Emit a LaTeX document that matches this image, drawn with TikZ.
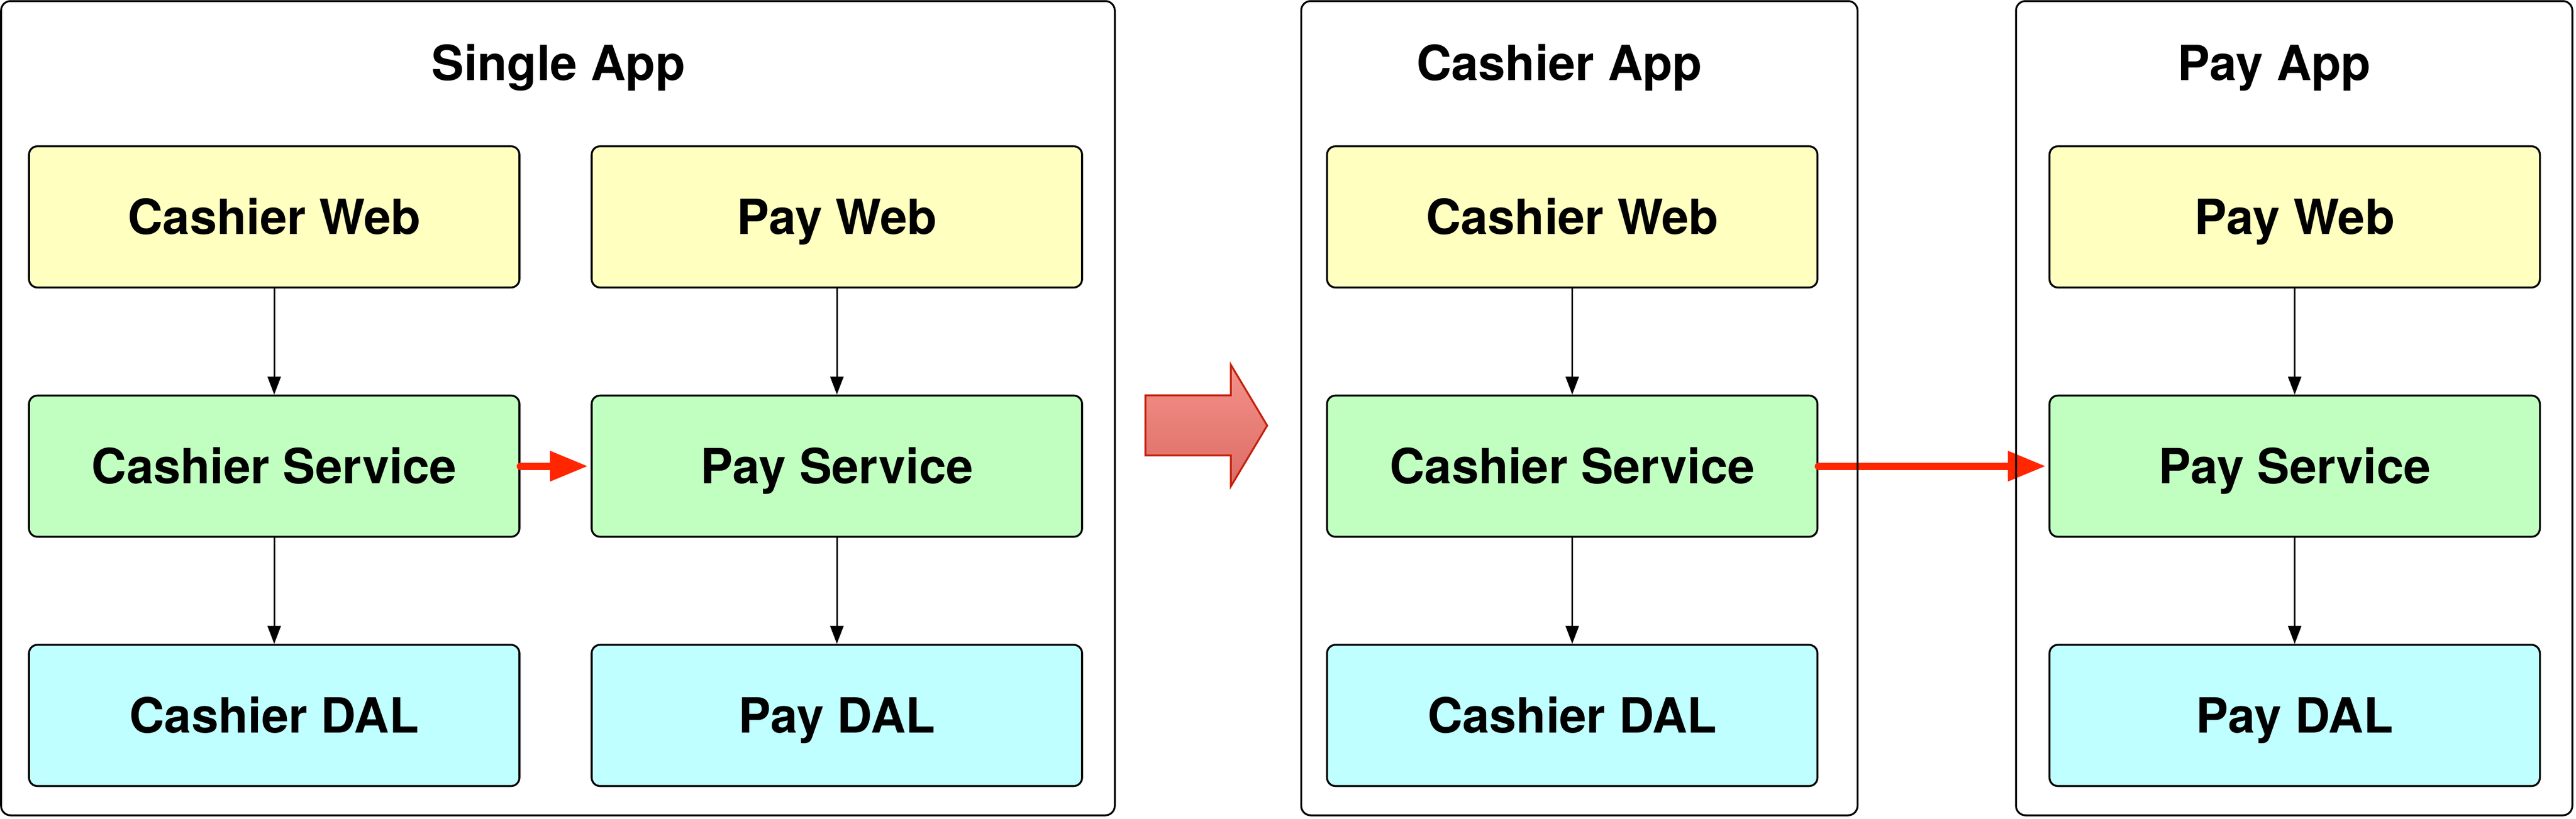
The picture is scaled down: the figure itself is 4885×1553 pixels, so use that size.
\documentclass[tikz,border=0pt]{standalone}
\usepackage{fontspec}
\setmainfont{TeX Gyre Heros}
\usetikzlibrary{arrows.meta}
\definecolor{webfill}{HTML}{FFFFC0}
\definecolor{svcfill}{HTML}{C0FFC0}
\definecolor{dalfill}{HTML}{C0FFFF}
\definecolor{callred}{HTML}{FF2600}
\definecolor{bigtop}{RGB}{244,146,138}
\definecolor{bigbot}{RGB}{220,108,100}
\definecolor{bigedge}{RGB}{196,32,12}
\begin{document}
\begin{tikzpicture}[x=1pt,y=-1pt,
  comp/.style={draw=black, line width=3.6pt, rounded corners=16pt,
    minimum width=930pt, minimum height=268pt, inner sep=0pt,
    text height=66pt, text depth=0pt,
    font=\fontsize{92}{110}\selectfont\bfseries},
  web/.style={comp, fill=webfill},
  svc/.style={comp, fill=svcfill},
  dal/.style={comp, fill=dalfill},
  apptitle/.style={inner sep=0pt, text height=66pt, text depth=0pt,
    font=\fontsize{92}{110}\selectfont\bfseries},
  appbox/.style={draw=black, line width=3.5pt, rounded corners=18pt,
    inner sep=0pt, minimum height=1545pt},
  flow/.style={draw=black, line width=3pt, -{Triangle[length=34pt,width=25pt]}},
  redcall/.style={draw=callred, line width=14pt, line cap=round,
    -{Triangle[length=72pt,width=54pt]}, shorten >=5pt},
  bigarrow/.style={draw=bigedge, line width=3.5pt, line join=miter,
    top color=bigtop, bottom color=bigbot}
]
\useasboundingbox (0,0) rectangle (4885,1553);

% Single App components
\node[web] (w1) at (520,411.5) {Cashier Web};
\node[web] (w2) at (1587,411.5) {Pay Web};
\node[svc] (s1) at (520,884.5) {Cashier Service};
\node[svc] (s2) at (1587,884.5) {Pay Service};
\node[dal] (d1) at (520,1357.5) {Cashier DAL};
\node[dal] (d2) at (1587,1357.5) {Pay DAL};

% Cashier App components
\node[web] (w3) at (2981.5,411.5) {Cashier Web};
\node[svc] (s3) at (2981.5,884.5) {Cashier Service};
\node[dal] (d3) at (2981.5,1357.5) {Cashier DAL};

% Pay App components
\node[web] (w4) at (4351.5,411.5) {Pay Web};
\node[svc] (s4) at (4351.5,884.5) {Pay Service};
\node[dal] (d4) at (4351.5,1357.5) {Pay DAL};

% vertical flows
\draw[flow] (w1) -- (s1);
\draw[flow] (s1) -- (d1);
\draw[flow] (w2) -- (s2);
\draw[flow] (s2) -- (d2);
\draw[flow] (w3) -- (s3);
\draw[flow] (s3) -- (d3);
\draw[flow] (w4) -- (s4);
\draw[flow] (s4) -- (d4);

% red calls
\draw[redcall] (s1.east) -- (s2.west);
\draw[redcall] (s3.east) -- (s4.west);

% big transformation arrow
\draw[bigarrow] (2172,750) -- (2334,750) -- (2334,692) -- (2403,807.5)
  -- (2334,923) -- (2334,864) -- (2172,864) -- cycle;

% app containers
\node[appbox, minimum width=2112pt] (single) at (1058,774.5) {};
\node[appbox, minimum width=1055pt] (cashierapp) at (2995,774.5) {};
\node[appbox, minimum width=1055pt] (payapp) at (4350.5,774.5) {};

\node[apptitle] (t1) at (1059,119) {Single App};
\node[apptitle] (t2) at (2957,119) {Cashier App};
\node[apptitle] (t3) at (4313,119) {Pay App};
\end{tikzpicture}
\end{document}
